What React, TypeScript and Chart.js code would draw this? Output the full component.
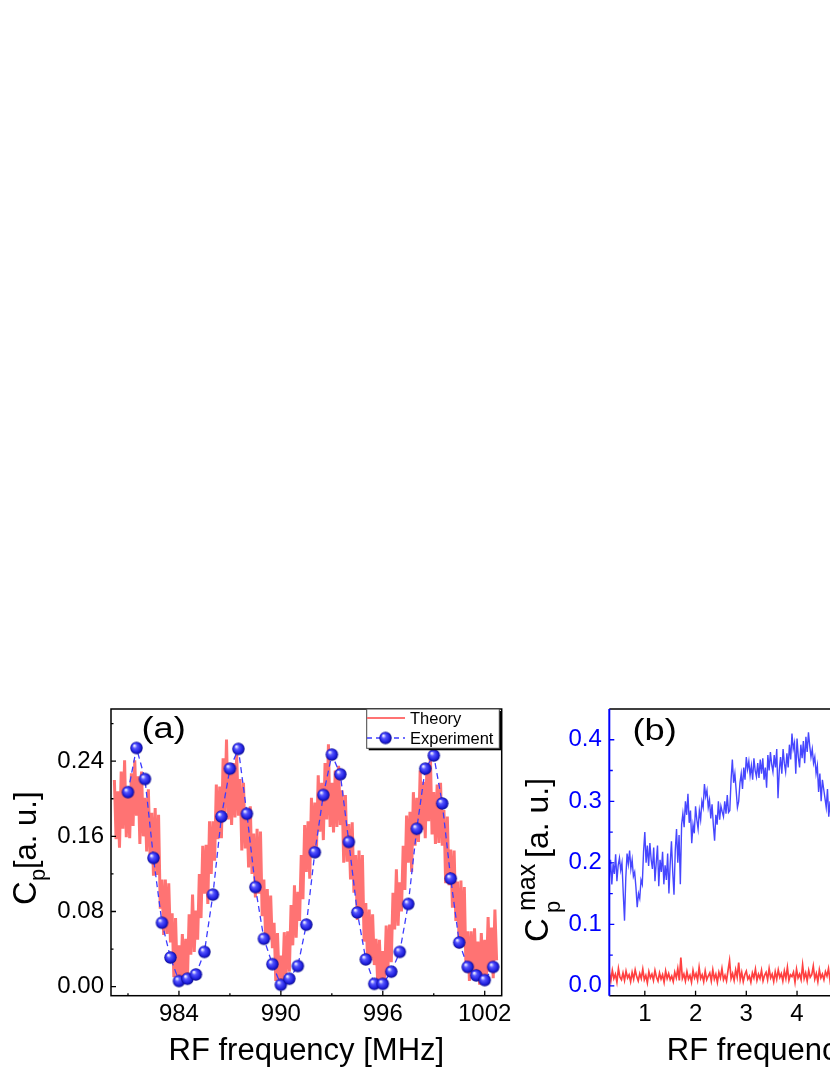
import { useEffect, useRef } from "react"
import { Chart, registerables } from "chart.js"

Chart.register(...registerables)

const FONT = "'Liberation Sans', Arial, sans-serif"

// ---- panel (a) ----
// theory trace, sampled every 0.1 MHz starting at 980.2 MHz
const THEORY_START = 980.2
const THEORY_STEP = 0.1
const theoryCp = [
  0.220, 0.157, 0.208, 0.148, 0.229, 0.168, 0.241, 0.159, 0.209, 0.158,
  0.227, 0.171, 0.241, 0.182, 0.224, 0.152, 0.229, 0.160, 0.201, 0.144,
  0.210, 0.140, 0.185, 0.118, 0.190, 0.119, 0.183, 0.083, 0.114, 0.055,
  0.114, 0.056, 0.110, 0.047, 0.078, 0.010, 0.073, 0.009, 0.044, 0.006,
  0.056, 0.008, 0.051, 0.008, 0.077, 0.034, 0.098, 0.037, 0.081, 0.050,
  0.120, 0.073, 0.150, 0.099, 0.151, 0.088, 0.176, 0.120, 0.176, 0.134,
  0.215, 0.157, 0.213, 0.158, 0.243, 0.186, 0.263, 0.178, 0.226, 0.172,
  0.238, 0.180, 0.247, 0.182, 0.221, 0.145, 0.217, 0.147, 0.186, 0.127,
  0.192, 0.120, 0.163, 0.095, 0.168, 0.099, 0.165, 0.075, 0.114, 0.052,
  0.104, 0.050, 0.097, 0.041, 0.068, 0.006, 0.057, 0.005, 0.033, 0.003,
  0.058, 0.013, 0.059, 0.016, 0.087, 0.044, 0.108, 0.052, 0.101, 0.070,
  0.140, 0.093, 0.172, 0.122, 0.176, 0.115, 0.201, 0.143, 0.196, 0.149,
  0.225, 0.165, 0.217, 0.156, 0.238, 0.178, 0.258, 0.170, 0.217, 0.164,
  0.230, 0.170, 0.235, 0.172, 0.209, 0.132, 0.204, 0.133, 0.173, 0.114,
  0.175, 0.100, 0.140, 0.071, 0.145, 0.076, 0.140, 0.048, 0.089, 0.029,
  0.082, 0.028, 0.077, 0.023, 0.051, 0.004, 0.050, 0.003, 0.038, 0.004,
  0.065, 0.019, 0.066, 0.026, 0.100, 0.061, 0.125, 0.065, 0.111, 0.080,
  0.150, 0.103, 0.182, 0.132, 0.186, 0.122, 0.207, 0.150, 0.201, 0.154,
  0.230, 0.167, 0.218, 0.158, 0.238, 0.176, 0.248, 0.162, 0.207, 0.152,
  0.215, 0.153, 0.217, 0.150, 0.188, 0.110, 0.181, 0.108, 0.146, 0.084,
  0.145, 0.070, 0.112, 0.041, 0.113, 0.043, 0.106, 0.015, 0.059, 0.006,
  0.059, 0.010, 0.062, 0.011, 0.048, 0.002, 0.057, 0.009, 0.050, 0.011,
  0.074, 0.016, 0.063, 0.009, 0.082, 0.028,
]

const expFreq = [
  981, 981.5, 982, 982.5, 983, 983.5, 984, 984.5, 985, 985.5, 986, 986.5,
  987, 987.5, 988, 988.5, 989, 989.5, 990, 990.5, 991, 991.5, 992, 992.5,
  993, 993.5, 994, 994.5, 995, 995.5, 996, 996.5, 997, 997.5, 998, 998.5,
  999, 999.5, 1000, 1000.5, 1001, 1001.5, 1002, 1002.5,
]
const expCp = [
  0.207, 0.254, 0.221, 0.137, 0.068, 0.031, 0.006, 0.0085, 0.013, 0.037, 0.098, 0.181,
  0.232, 0.253, 0.184, 0.106, 0.051, 0.024, 0.002, 0.0085, 0.022, 0.066, 0.143, 0.204,
  0.247, 0.226, 0.154, 0.079, 0.029, 0.003, 0.003, 0.016, 0.037, 0.088, 0.168, 0.232,
  0.246, 0.195, 0.115, 0.047, 0.021, 0.012, 0.007, 0.021,
]

const freqTicksA = [984, 990, 996, 1002]
const freqMinorA = [981, 987, 993, 999]
const cpTicksA = [0, 0.08, 0.16, 0.24]
const cpMinorA = [0.04, 0.12, 0.2, 0.28]

// ---- panel (b) ----
const BLUE_START = 0.3
const BLUE_STEP = 0.025
const blueCp = [
  0.175, 0.205, 0.165, 0.198, 0.182, 0.214, 0.170, 0.196, 0.208, 0.188,
  0.200, 0.150, 0.106, 0.175, 0.215, 0.198, 0.220, 0.190, 0.205, 0.178,
  0.185, 0.160, 0.128, 0.150, 0.142, 0.172, 0.165, 0.218, 0.250, 0.200,
  0.228, 0.195, 0.232, 0.205, 0.190, 0.225, 0.170, 0.200, 0.228, 0.162,
  0.205, 0.185, 0.218, 0.165, 0.196, 0.172, 0.215, 0.150, 0.198, 0.235,
  0.185, 0.148, 0.220, 0.255, 0.200, 0.245, 0.165, 0.262, 0.280, 0.258,
  0.300, 0.278, 0.312, 0.265, 0.285, 0.232, 0.262, 0.248, 0.292, 0.270,
  0.255, 0.285, 0.270, 0.300, 0.290, 0.328, 0.308, 0.318, 0.290, 0.302,
  0.272, 0.295, 0.262, 0.236, 0.278, 0.262, 0.300, 0.270, 0.292, 0.283,
  0.275, 0.300, 0.280, 0.310, 0.282, 0.285, 0.335, 0.368, 0.330, 0.345,
  0.318, 0.290, 0.300, 0.330, 0.345, 0.320, 0.355, 0.335, 0.372, 0.352,
  0.365, 0.342, 0.358, 0.335, 0.370, 0.350, 0.340, 0.362, 0.338, 0.368,
  0.345, 0.370, 0.335, 0.355, 0.322, 0.375, 0.350, 0.380, 0.360, 0.348,
  0.375, 0.355, 0.385, 0.305, 0.350, 0.372, 0.345, 0.385, 0.362, 0.348,
  0.378, 0.355, 0.392, 0.368, 0.410, 0.385, 0.395, 0.345, 0.402, 0.372,
  0.355, 0.392, 0.370, 0.398, 0.362, 0.405, 0.380, 0.412, 0.390, 0.372,
  0.385, 0.362, 0.372, 0.345, 0.358, 0.315, 0.345, 0.300, 0.335, 0.320,
  0.305, 0.290, 0.320, 0.275, 0.300, 0.262, 0.290,
]

const RED_START = 0.3
const RED_STEP = 0.03
const redCp = [
  0.022, 0.008, 0.025, 0.012, 0.019, 0.006, 0.028, 0.014, 0.010, 0.021,
  0.009, 0.024, 0.013, 0.018, 0.007, 0.022, 0.011, 0.026, 0.015, 0.008,
  0.020, 0.012, 0.027, 0.010, 0.017, 0.005, 0.023, 0.013, 0.019, 0.009,
  0.025, 0.014, 0.008, 0.021, 0.011, 0.018, 0.006, 0.024, 0.012, 0.020,
  0.010, 0.016, 0.007, 0.022, 0.013, 0.028, 0.009, 0.046, 0.012, 0.019,
  0.008, 0.023, 0.011, 0.017, 0.006, 0.025, 0.013, 0.020, 0.009, 0.030,
  0.012, 0.018, 0.007, 0.024, 0.010, 0.016, 0.021, 0.008, 0.026, 0.011,
  0.019, 0.006, 0.022, 0.013, 0.028, 0.010, 0.017, 0.008, 0.025, 0.041,
  0.012, 0.020, 0.009, 0.026, 0.014, 0.038, 0.010, 0.022, 0.007, 0.018,
  0.024, 0.011, 0.016, 0.006, 0.021, 0.013, 0.027, 0.009, 0.019, 0.012,
  0.025, 0.008, 0.017, 0.022, 0.010, 0.028, 0.013, 0.019, 0.007, 0.023,
  0.011, 0.026, 0.014, 0.020, 0.008, 0.024, 0.012, 0.030, 0.009, 0.018,
  0.015, 0.022, 0.006, 0.027, 0.013, 0.019, 0.010, 0.034, 0.012, 0.021,
  0.008, 0.025, 0.014, 0.018, 0.032, 0.011, 0.020, 0.007, 0.026, 0.013,
  0.019, 0.010, 0.023, 0.016, 0.028, 0.009, 0.021, 0.014,
]

const freqTicksB = [1, 2, 3, 4, 5, 6, 7]
const cpTicksB = [0, 0.1, 0.2, 0.3, 0.4]
const cpMinorB = [0.05, 0.15, 0.25, 0.35]

const sampled = (start: number, step: number, ys: number[]) =>
  ys.map((y, i) => ({ x: start + i * step, y }))

// blue shaded ball used as marker
function makeBall(r: number) {
  const size = Math.ceil(r * 2 + 2)
  const c = document.createElement("canvas")
  c.width = size
  c.height = size
  const g = c.getContext("2d")!
  const m = size / 2
  const grad = g.createRadialGradient(m - r * 0.35, m - r * 0.4, r * 0.1, m, m, r)
  grad.addColorStop(0, "#e8e8ff")
  grad.addColorStop(0.3, "#5555ff")
  grad.addColorStop(0.75, "#1f1fdd")
  grad.addColorStop(1, "#0a0a8c")
  g.fillStyle = grad
  g.beginPath()
  g.arc(m, m, r, 0, Math.PI * 2)
  g.fill()
  return c
}

function rotText(ctx: CanvasRenderingContext2D, s: string, x: number, y: number, size: number) {
  ctx.save()
  ctx.translate(x, y)
  ctx.rotate(-Math.PI / 2)
  ctx.font = `${size}px ${FONT}`
  ctx.fillStyle = "#000"
  ctx.textAlign = "left"
  ctx.textBaseline = "alphabetic"
  ctx.fillText(s, 0, 0)
  ctx.restore()
}

function text(ctx: CanvasRenderingContext2D, s: string, x: number, y: number, size: number, align: CanvasTextAlign = "left", stretch = 1) {
  ctx.save()
  ctx.translate(x, y)
  ctx.scale(stretch, 1)
  ctx.font = `${size}px ${FONT}`
  ctx.fillStyle = "#000"
  ctx.textAlign = align
  ctx.textBaseline = "alphabetic"
  ctx.fillText(s, 0, 0)
  ctx.restore()
}

function tickMarks(ctx: CanvasRenderingContext2D, chart: Chart, axis: "x" | "y", values: number[], len: number, color: string) {
  const a = chart.chartArea
  const sc = chart.scales[axis]
  ctx.strokeStyle = color
  ctx.lineWidth = 1.3
  ctx.beginPath()
  values.forEach((v) => {
    const p = sc.getPixelForValue(v)
    if (axis === "x") {
      ctx.moveTo(p, a.bottom)
      ctx.lineTo(p, a.bottom - len)
    } else {
      ctx.moveTo(a.left, p)
      ctx.lineTo(a.left + len, p)
    }
  })
  ctx.stroke()
}

const tickFont = { family: FONT, size: 24 }

function PanelA() {
  const chartRef = useRef<HTMLCanvasElement>(null)

  useEffect(() => {
    if (!chartRef.current) return
    const ball = makeBall(6.2)

    const decor = {
      id: "decorA",
      afterDraw(chart: Chart) {
        const ctx = chart.ctx
        const a = chart.chartArea
        ctx.save()
        ctx.strokeStyle = "#000"
        ctx.lineWidth = 1.5
        ctx.strokeRect(a.left, a.top, a.right - a.left, a.bottom - a.top)
        tickMarks(ctx, chart, "x", freqTicksA, 5, "#000")
        tickMarks(ctx, chart, "x", freqMinorA, 2.5, "#000")
        tickMarks(ctx, chart, "y", cpTicksA, 5, "#000")
        tickMarks(ctx, chart, "y", cpMinorA, 2.5, "#000")

        // legend
        ctx.fillStyle = "#000"
        ctx.fillRect(368.7, 21, 132.6, 39.3)
        ctx.fillStyle = "#fff"
        ctx.fillRect(366.7, 19, 132.6, 39.3)
        ctx.strokeStyle = "#444"
        ctx.lineWidth = 1
        ctx.strokeRect(366.7, 19, 132.6, 39.3)
        ctx.strokeStyle = "#ff7373"
        ctx.lineWidth = 1.8
        ctx.beginPath()
        ctx.moveTo(367, 28)
        ctx.lineTo(405, 28)
        ctx.stroke()
        ctx.strokeStyle = "#3c3cff"
        ctx.lineWidth = 1.3
        ctx.setLineDash([5, 4])
        ctx.beginPath()
        ctx.moveTo(367, 48)
        ctx.lineTo(405, 48)
        ctx.stroke()
        ctx.setLineDash([])
        ctx.drawImage(ball, 385.5 - ball.width / 2, 48 - ball.height / 2)
        text(ctx, "Theory", 410, 33.5, 16.5)
        text(ctx, "Experiment", 410, 53.5, 16.5)

        // labels and titles
        text(ctx, "(a)", 141.5, 47.5, 29, "left", 1.25)
        text(ctx, "RF frequency [MHz]", (a.left + a.right) / 2, 370, 31, "center")
        rotText(ctx, "C", 36, 215, 33)
        rotText(ctx, "p", 44.5, 191, 22)
        rotText(ctx, "[a. u.]", 36, 179, 31)
        ctx.restore()
      },
    }

    const chart = new Chart(chartRef.current, {
      type: "line",
      data: {
        datasets: [
          {
            label: "Experiment",
            data: expFreq.map((f, i) => ({ x: f, y: expCp[i] })),
            borderColor: "#3c3cff",
            borderWidth: 1.3,
            borderDash: [6, 4],
            pointStyle: ball,
            pointRadius: 6,
            order: 1,
          },
          {
            label: "Theory",
            data: sampled(THEORY_START, THEORY_STEP, theoryCp),
            borderColor: "#ff7373",
            borderWidth: 3,
            pointRadius: 0,
            order: 2,
          },
        ],
      },
      options: {
        responsive: false,
        animation: false,
        layout: { padding: { left: 0, top: 19, right: 18.3, bottom: 0 } },
        plugins: { legend: { display: false }, tooltip: { enabled: false } },
        scales: {
          x: {
            type: "linear",
            min: 980,
            max: 1003,
            grid: { display: false, drawTicks: false },
            border: { display: false },
            ticks: {
              font: tickFont,
              color: "#000",
              padding: 4.5,
              maxRotation: 0,
              autoSkip: false,
              includeBounds: false,
              callback: (v) => String(v),
            },
            afterBuildTicks: (s) => {
              s.ticks = freqTicksA.map((value) => ({ value }))
            },
            afterFit: (s) => {
              s.height = 79.3
              s.paddingLeft = 0
              s.paddingRight = 0
            },
          },
          y: {
            min: -0.0096,
            max: 0.2955,
            grid: { display: false, drawTicks: false },
            border: { display: false },
            ticks: {
              font: tickFont,
              color: "#000",
              padding: 7,
              includeBounds: false,
              callback: (v) => Number(v).toFixed(2),
            },
            afterBuildTicks: (s) => {
              s.ticks = cpTicksA.map((value) => ({ value }))
            },
            afterFit: (s) => {
              s.width = 111
              s.paddingTop = 0
              s.paddingBottom = 0
            },
          },
        },
      },
      plugins: [decor],
    })

    return () => chart.destroy()
  }, [])

  return (
    <canvas
      ref={chartRef}
      width={520}
      height={385}
      style={{ position: "absolute", left: 0, top: 690, width: 520, height: 385 }}
    />
  )
}

function PanelB() {
  const chartRef = useRef<HTMLCanvasElement>(null)

  useEffect(() => {
    if (!chartRef.current) return

    const decor = {
      id: "decorB",
      afterDraw(chart: Chart) {
        const ctx = chart.ctx
        const a = chart.chartArea
        ctx.save()
        ctx.strokeStyle = "#000"
        ctx.lineWidth = 1.5
        ctx.beginPath()
        ctx.moveTo(a.left, a.top)
        ctx.lineTo(a.right, a.top)
        ctx.lineTo(a.right, a.bottom)
        ctx.lineTo(a.left, a.bottom)
        ctx.stroke()
        ctx.strokeStyle = "#0000ff"
        ctx.lineWidth = 2
        ctx.beginPath()
        ctx.moveTo(a.left, a.top)
        ctx.lineTo(a.left, a.bottom)
        ctx.stroke()
        tickMarks(ctx, chart, "x", freqTicksB, 5, "#000")
        tickMarks(ctx, chart, "y", cpTicksB, 5, "#0000ff")
        tickMarks(ctx, chart, "y", cpMinorB, 3.5, "#0000ff")

        text(ctx, "(b)", 122.5, 49.5, 29, "left", 1.25)
        text(ctx, "RF frequency [MHz]", (a.left + a.right) / 2, 370, 31, "center")
        rotText(ctx, "C", 38, 252, 33)
        rotText(ctx, "max", 25, 221, 25)
        rotText(ctx, "p", 49.5, 223, 22)
        rotText(ctx, "[a. u.]", 38, 168, 32)
        ctx.restore()
      },
    }

    const chart = new Chart(chartRef.current, {
      type: "line",
      data: {
        datasets: [
          {
            label: "blue",
            data: sampled(BLUE_START, BLUE_STEP, blueCp),
            borderColor: "#4646ff",
            borderWidth: 1.4,
            pointRadius: 0,
          },
          {
            label: "red",
            data: sampled(RED_START, RED_STEP, redCp),
            borderColor: "#ff4040",
            borderWidth: 1.7,
            pointRadius: 0,
          },
        ],
      },
      options: {
        responsive: false,
        animation: false,
        layout: { padding: { left: 0, top: 19, right: 18, bottom: 0 } },
        plugins: { legend: { display: false }, tooltip: { enabled: false } },
        scales: {
          x: {
            type: "linear",
            min: 0.3,
            max: 8,
            grid: { display: false, drawTicks: false },
            border: { display: false },
            ticks: {
              font: tickFont,
              color: "#000",
              padding: 4.5,
              maxRotation: 0,
              autoSkip: false,
              includeBounds: false,
              callback: (v) => String(v),
            },
            afterBuildTicks: (s) => {
              s.ticks = freqTicksB.map((value) => ({ value }))
            },
            afterFit: (s) => {
              s.height = 79.3
              s.paddingLeft = 0
              s.paddingRight = 0
            },
          },
          y: {
            min: -0.016,
            max: 0.45,
            grid: { display: false, drawTicks: false },
            border: { display: false },
            ticks: {
              font: tickFont,
              color: "#0000ff",
              padding: 7.5,
              includeBounds: false,
              callback: (v) => Number(v).toFixed(1),
            },
            afterBuildTicks: (s) => {
              s.ticks = cpTicksB.map((value) => ({ value }))
            },
            afterFit: (s) => {
              s.width = 99.3
              s.paddingTop = 0
              s.paddingBottom = 0
            },
          },
        },
      },
      plugins: [decor],
    })

    return () => chart.destroy()
  }, [])

  return (
    <canvas
      ref={chartRef}
      width={508}
      height={385}
      style={{ position: "absolute", left: 510, top: 690, width: 508, height: 385 }}
    />
  )
}

export default function App() {
  return (
    <div
      style={{
        position: "absolute",
        left: 0,
        top: 0,
        width: 830,
        height: 1075,
        overflow: "hidden",
        background: "#fff",
      }}
    >
      <PanelA />
      <PanelB />
    </div>
  )
}
